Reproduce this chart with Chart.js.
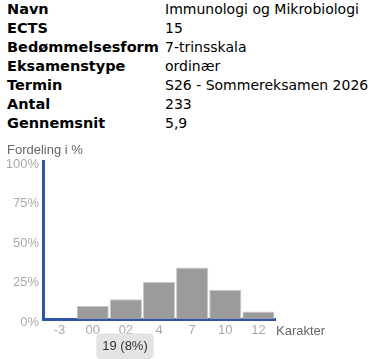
<!DOCTYPE html>
<html>
<head>
<meta charset="utf-8">
<script src="https://cdn.jsdelivr.net/npm/chart.js@4"></script>
<style>
  body { margin:0; background:#fff; width:378px; height:359px; overflow:hidden; position:relative; }
  #info { position:absolute; left:7px; top:0; font-family:"DejaVu Sans", Verdana, sans-serif; font-size:14px; line-height:19px; color:#000; border-collapse:collapse; }
  #info td { padding:0; white-space:nowrap; }
  #info td.k { font-weight:bold; font-size:14.5px; width:158px; }
  #wrap { position:absolute; left:0; top:140px; width:378px; height:219px; }
</style>
</head>
<body>
<table id="info">
  <tr><td class="k">Navn</td><td>Immunologi og Mikrobiologi</td></tr>
  <tr><td class="k">ECTS</td><td>15</td></tr>
  <tr><td class="k">Bedømmelsesform</td><td>7-trinsskala</td></tr>
  <tr><td class="k">Eksamenstype</td><td>ordinær</td></tr>
  <tr><td class="k">Termin</td><td>S26 - Sommereksamen 2026</td></tr>
  <tr><td class="k">Antal</td><td>233</td></tr>
  <tr><td class="k">Gennemsnit</td><td>5,9</td></tr>
</table>
<div id="wrap"><canvas id="chart"></canvas></div>
<script>
// ---- Data
const grades = ['-3', '00', '02', '4', '7', '10', '12'];
const counts = [0, 19, 29, 55, 76, 43, 11];
const total = 233;
const yTicks = [0, 25, 50, 75, 100];
const percents = counts.map(c => c / total * 100);

const AXIS_BLUE = '#2f55a4';
const FONT = 'Liberation Sans, Arial, Helvetica, sans-serif';

// ---- Texts drawn beside the axes
const axisTexts = {
  id: 'axisTexts',
  afterDraw(chart){
    const ctx = chart.ctx;
    ctx.save();
    ctx.font = '13px ' + FONT;
    ctx.fillStyle = '#666';
    ctx.textBaseline = 'middle';
    ctx.textAlign = 'left';
    ctx.fillText('Fordeling i %', 7, 10);
    ctx.fillText('Karakter', chart.chartArea.right + 1, chart.chartArea.bottom + 12);
    ctx.restore();
  }
};

Chart.Tooltip.positioners.under = function(){
  return { x: 125, y: 193 };
};

const chart = new Chart(document.getElementById('chart'), {
  type: 'bar',
  data: {
    labels: grades,
    datasets: [{
      data: percents,
      backgroundColor: '#9b9b9b',
      borderColor: '#c8c8c8',
      borderWidth: { top: 1, left: 1, right: 1, bottom: 0 },
      borderSkipped: 'bottom',
      categoryPercentage: 1,
      barPercentage: 0.97
    }]
  },
  options: {
    responsive: true,
    maintainAspectRatio: false,
    animation: false,
    layout: { padding: { top: 21, right: 103, left: 0, bottom: 0 } },
    scales: {
      x: {
        grid: { display: false, drawTicks: false },
        border: { display: true, color: AXIS_BLUE, width: 3 },
        ticks: { color: '#aaa', font: { family: FONT, size: 13 }, padding: 4, maxRotation: 0 },
        afterFit: s => { s.height = 40; }
      },
      y: {
        min: 0, max: 100,
        afterBuildTicks: s => { s.ticks = yTicks.map(v => ({ value: v })); },
        grid: { display: false, drawTicks: false },
        border: { display: true, color: AXIS_BLUE, width: 3 },
        ticks: { color: '#aaa', font: { family: FONT, size: 13 }, padding: 4, labelOffset: 3,
                 callback: v => v + '%' },
        afterFit: s => { s.width = 43; }
      }
    },
    plugins: {
      legend: { display: false },
      title: { display: false },
      tooltip: {
        enabled: true,
        position: 'under',
        yAlign: 'top',
        xAlign: 'center',
        caretSize: 0,
        displayColors: false,
        backgroundColor: '#e4e4e4',
        bodyColor: '#333',
        bodyFont: { family: FONT, size: 13 },
        padding: { top: 5, bottom: 5, left: 6, right: 6 },
        cornerRadius: 5,
        callbacks: {
          title: () => '',
          label: c => `${counts[c.dataIndex]} (${Math.round(percents[c.dataIndex])}%)`
        }
      }
    },
    events: []
  },
  plugins: [axisTexts]
});

chart.tooltip.setActiveElements([{ datasetIndex: 0, index: 1 }], { x: 125, y: 193 });
chart.update();
</script>
</body>
</html>
